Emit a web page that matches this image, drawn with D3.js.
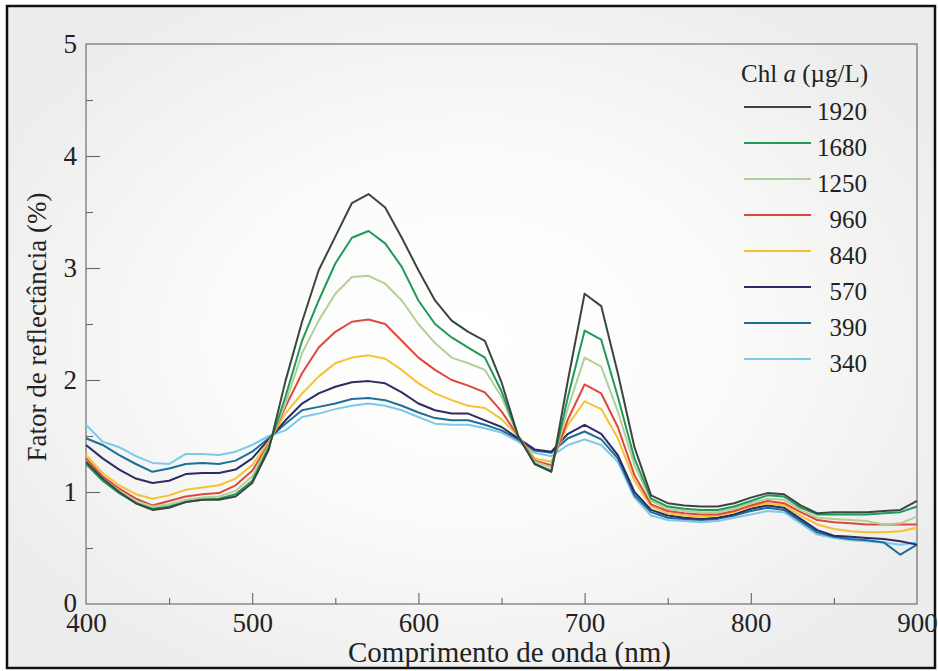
<!DOCTYPE html>
<html><head><meta charset="utf-8">
<script src="https://cdn.jsdelivr.net/npm/d3@7"></script>
<style>html,body{margin:0;padding:0;background:#fff;}svg{display:block;}</style>
</head><body>
<svg id="chart" width="938" height="671"></svg>
<script>
const wavelengths = [400,410,420,430,440,450,460,470,480,490,500,510,520,530,540,550,560,570,580,590,600,610,620,630,640,650,660,670,680,690,700,710,720,730,740,750,760,770,780,790,800,810,820,830,840,850,860,870,880,890,900];
const s1920 = [1.27,1.12,1.00,0.90,0.84,0.86,0.91,0.93,0.93,0.96,1.08,1.38, 1.99,2.52,2.98,3.28,3.58,3.66,3.54,3.27,2.98,2.71,2.53,2.43,2.35,1.98, 1.50,1.25,1.18,2.00,2.77,2.66,2.06,1.40,0.97,0.90, 0.88,0.87,0.87,0.90,0.95,0.99,0.98,0.88,0.81, 0.82,0.82,0.82,0.83,0.84,0.92];
const s1680 = [1.25,1.10,0.99,0.90,0.85,0.87,0.91,0.93,0.94,0.98,1.10,1.40, 1.85,2.35,2.71,3.04,3.27,3.33,3.22,3.01,2.71,2.50,2.38,2.29,2.20,1.90, 1.50,1.25,1.19,1.85,2.44,2.36,1.85,1.30,0.94,0.87, 0.85,0.84,0.84,0.87,0.92,0.97,0.96,0.86,0.80, 0.80,0.80,0.80,0.81,0.82,0.87];
const s1250 = [1.27,1.12,1.01,0.92,0.87,0.89,0.93,0.95,0.96,1.01,1.14,1.42, 1.79,2.24,2.53,2.77,2.92,2.93,2.86,2.71,2.50,2.33,2.20,2.15,2.09,1.85, 1.50,1.27,1.22,1.75,2.20,2.12,1.72,1.24,0.92,0.85, 0.83,0.82,0.82,0.85,0.90,0.94,0.93,0.84,0.77, 0.76,0.75,0.74,0.71,0.72,0.78];
const s960  = [1.30,1.14,1.03,0.94,0.88,0.92,0.96,0.98,0.99,1.06,1.19,1.43, 1.76,2.06,2.29,2.43,2.52,2.54,2.50,2.35,2.20,2.09,2.00,1.95,1.89,1.72, 1.50,1.28,1.24,1.65,1.96,1.88,1.58,1.15,0.89,0.83, 0.81,0.80,0.80,0.83,0.88,0.92,0.90,0.82,0.75, 0.73,0.72,0.71,0.71,0.71,0.71];
const s840  = [1.33,1.17,1.06,0.98,0.94,0.97,1.02,1.04,1.06,1.12,1.24,1.45, 1.70,1.88,2.03,2.15,2.20,2.22,2.19,2.09,1.97,1.88,1.82,1.77,1.75,1.65, 1.50,1.30,1.27,1.60,1.81,1.74,1.48,1.10,0.87,0.81, 0.79,0.78,0.79,0.82,0.87,0.90,0.88,0.79,0.71, 0.67,0.65,0.64,0.64,0.65,0.68];
const s570  = [1.42,1.30,1.20,1.12,1.08,1.10,1.16,1.17,1.17,1.20,1.30,1.47, 1.64,1.79,1.88,1.94,1.98,1.99,1.97,1.89,1.79,1.73,1.70,1.70,1.64,1.58, 1.48,1.38,1.36,1.52,1.60,1.52,1.33,1.00,0.84,0.79, 0.77,0.76,0.77,0.80,0.85,0.88,0.86,0.76,0.66, 0.61,0.60,0.59,0.58,0.56,0.53];
const s390  = [1.48,1.42,1.33,1.25,1.18,1.21,1.25,1.26,1.25,1.28,1.36,1.48, 1.61,1.73,1.76,1.79,1.83,1.84,1.82,1.77,1.71,1.66,1.64,1.64,1.60,1.55, 1.47,1.37,1.35,1.48,1.54,1.47,1.30,0.97,0.82,0.77, 0.76,0.75,0.76,0.79,0.83,0.86,0.84,0.74,0.64, 0.60,0.58,0.57,0.55,0.44,0.53];
const s340  = [1.60,1.45,1.40,1.32,1.26,1.25,1.34,1.34,1.33,1.36,1.42,1.50, 1.55,1.67,1.70,1.74,1.77,1.79,1.77,1.73,1.67,1.61,1.60,1.60,1.57,1.53, 1.45,1.35,1.32,1.42,1.47,1.42,1.27,0.95,0.79,0.75, 0.74,0.73,0.74,0.77,0.80,0.83,0.82,0.72,0.62, 0.59,0.57,0.56,0.55,0.53,0.55];

const seriesNames = ["1920","1680","1250","960","840","570","390","340"];
const seriesValues = [s1920,s1680,s1250,s960,s840,s570,s390,s340];
const seriesColors = ["#3b4541","#1f9a58","#b3cf98","#e0473c","#f4c232","#2c2b66","#1e6f98","#7ec8ea"];
const xTicks = [400,500,600,700,800,900];
const xMinorTicks = [450,550,650,750,850];
const yTicks = [0,1,2,3,4,5];
const yMinorTicks = [0.5,1.5,2.5,3.5,4.5];
const legendTitle = "Chl ";
const xTitle = "Comprimento de onda (nm)";
const yTitle = "Fator de reflectância (%)";

const FONT = "Liberation Serif";
const svg = d3.select("#chart");
const W = 938, H = 671;
const m = {left:86, right:917, top:44, bottom:604};

// background
const defs = svg.append("defs");
const rg = defs.append("radialGradient").attr("id","bg").attr("cx","0.5").attr("cy","0.5").attr("r","0.6");
rg.append("stop").attr("offset","0%").attr("stop-color","#ffffff");
rg.append("stop").attr("offset","45%").attr("stop-color","#fbfbfa");
rg.append("stop").attr("offset","100%").attr("stop-color","#ececec");
svg.append("rect").attr("x",0).attr("y",0).attr("width",W).attr("height",H).attr("fill","#ffffff");
svg.append("rect").attr("x",7).attr("y",6).attr("width",928).attr("height",662)
  .attr("fill","url(#bg)").attr("stroke","#111").attr("stroke-width",2.5);

const x = d3.scaleLinear().domain([400,900]).range([m.left,m.right]);
const y = d3.scaleLinear().domain([0,5]).range([m.bottom,m.top]);

// frame
svg.append("rect").attr("x",m.left).attr("y",m.top).attr("width",m.right-m.left).attr("height",m.bottom-m.top)
  .attr("fill","none").attr("stroke","#7a7a7a").attr("stroke-width",1.3);

// axes with inward ticks
const xAxis = svg.append("g").attr("transform",`translate(0,${m.bottom})`)
  .call(d3.axisBottom(x).tickValues(xTicks).tickSizeInner(-11).tickSizeOuter(0).tickPadding(9).tickFormat(d3.format("d")));
const xMinor = svg.append("g").attr("transform",`translate(0,${m.bottom})`)
  .call(d3.axisBottom(x).tickValues(xMinorTicks).tickSizeInner(-6).tickSizeOuter(0).tickFormat(""));
const yAxis = svg.append("g").attr("transform",`translate(${m.left},0)`)
  .call(d3.axisLeft(y).tickValues(yTicks).tickSizeInner(-14).tickSizeOuter(0).tickPadding(9).tickFormat(d3.format("d")));
const yMinor = svg.append("g").attr("transform",`translate(${m.left},0)`)
  .call(d3.axisLeft(y).tickValues(yMinorTicks).tickSizeInner(-7).tickSizeOuter(0).tickFormat(""));
[xAxis,xMinor,yAxis,yMinor].forEach(g=>{
  g.attr("font-family",FONT).attr("font-size",27);
  g.select(".domain").remove();
  g.selectAll(".tick line").attr("stroke","#666").attr("stroke-width",1.1);
  g.selectAll(".tick text").attr("font-family",FONT).attr("font-size",27).attr("fill","#222");
});
yAxis.selectAll(".tick").filter(d=>d===0||d===5).select("line").remove();
xAxis.selectAll(".tick").filter(d=>d===400||d===900).select("line").remove();
yAxis.selectAll(".tick").filter(d=>d===0).select("text").attr("dy","0.26em");

// lines
const line = d3.line().x((d,i)=>x(wavelengths[i])).y(d=>y(d));
const order = d3.range(seriesValues.length).reverse();
svg.append("g").selectAll("path").data(order).join("path")
  .attr("d",i=>line(seriesValues[i])).attr("fill","none")
  .attr("stroke",i=>seriesColors[i]).attr("stroke-width",2).attr("stroke-linejoin","round");

// axis titles
svg.append("text").attr("x",(m.left+m.right)/2 + 8).attr("y",662).attr("text-anchor","middle")
  .attr("font-family",FONT).attr("font-size",29).attr("fill","#222").text(xTitle);
svg.append("text").attr("transform",`translate(46,${(m.top+m.bottom)/2 + 3}) rotate(-90)`).attr("text-anchor","middle")
  .attr("font-family",FONT).attr("font-size",27).attr("fill","#222").text(yTitle);

// legend
const lg = svg.append("g");
const lt = lg.append("text").attr("x",868).attr("y",82).attr("text-anchor","end")
  .attr("font-family",FONT).attr("font-size",25).attr("fill","#222");
lt.append("tspan").text(legendTitle);
lt.append("tspan").attr("font-style","italic").text("a");
lt.append("tspan").text(" (µg/L)");
seriesNames.forEach((n,i)=>{
  const yy = 107 + i*36;
  lg.append("line").attr("x1",744).attr("x2",811).attr("y1",yy).attr("y2",yy)
    .attr("stroke",seriesColors[i]).attr("stroke-width",2);
  lg.append("text").attr("x",867).attr("y",yy+13).attr("text-anchor","end")
    .attr("font-family",FONT).attr("font-size",25).attr("fill","#222").text(n);
});
</script>
</body></html>
